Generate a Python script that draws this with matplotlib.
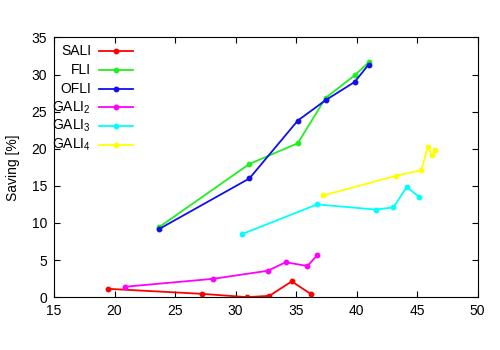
import matplotlib
matplotlib.use('Agg')
from matplotlib import pyplot as plt
from matplotlib.lines import Line2D

plt.rcParams['font.family'] = ['Liberation Sans', 'DejaVu Sans']
plt.rcParams['mathtext.fontset'] = 'custom'
plt.rcParams['mathtext.rm'] = 'Liberation Sans'
plt.rcParams['mathtext.it'] = 'Liberation Sans'

# data
sali_x = [19.5, 27.2, 30.95, 32.8, 34.65, 36.2]
sali_y = [1.12, 0.45, 0.0, 0.18, 2.12, 0.45]

fli_x = [23.65, 31.15, 35.15, 37.45, 39.85, 41.05]
fli_y = [9.4, 17.95, 20.75, 26.85, 29.9, 31.7]

ofli_x = [23.65, 31.15, 35.15, 37.45, 39.85, 41.0]
ofli_y = [9.15, 16.0, 23.8, 26.55, 29.0, 31.35]

gali2_x = [20.85, 28.15, 32.65, 34.15, 35.95, 36.75]
gali2_y = [1.4, 2.47, 3.55, 4.7, 4.2, 5.65]

gali3_x = [30.55, 36.75, 41.6, 43.05, 44.15, 45.15]
gali3_y = [8.5, 12.5, 11.8, 12.1, 14.85, 13.55]

gali4_x = [37.25, 43.25, 45.35, 45.9, 46.25, 46.5]
gali4_y = [13.7, 16.35, 17.1, 20.25, 19.1, 19.8]

series = [
    ('SALI', sali_x, sali_y, '#ff0000'),
    ('FLI', fli_x, fli_y, '#22ee22'),
    ('OFLI', ofli_x, ofli_y, '#1010ee'),
    ('GALI$_2$', gali2_x, gali2_y, '#ff00ff'),
    ('GALI$_3$', gali3_x, gali3_y, '#00ffff'),
    ('GALI$_4$', gali4_x, gali4_y, '#ffff00'),
]


def main():
    fig = plt.figure(figsize=(5, 3.5), dpi=100)
    ax = fig.add_axes([0.108, 0.151, 0.847, 0.742])

    for label, xs, ys, color in series:
        ax.plot(xs, ys, '-', color=color, linewidth=1.3, marker='o',
                markersize=3.2, label=label)

    ax.set_xlim(15, 50)
    ax.set_ylim(0, 35)
    ax.set_xticks(range(15, 51, 5))
    ax.set_yticks(range(0, 36, 5))
    ax.tick_params(direction='in', top=True, right=True, length=4,
                   labelsize=10, pad=5)
    ax.set_ylabel('Saving [%]', fontsize=10, labelpad=8)

    # gnuplot style key: right aligned text, sample to the right
    row_top = 0.948
    row_step = 0.0724
    for i, (label, xs, ys, color) in enumerate(series):
        yk = row_top - i * row_step
        ax.text(0.0874, yk, label, transform=ax.transAxes, ha='right',
                va='center', fontsize=10)
        ax.add_line(Line2D([0.106, 0.187], [yk, yk], transform=ax.transAxes,
                           color=color, linewidth=1.3))
        ax.add_line(Line2D([0.1465], [yk], transform=ax.transAxes,
                           color=color, marker='o', markersize=3.2))

    fig.savefig('out.png', dpi=100)


if __name__ == "__main__":
    main()
